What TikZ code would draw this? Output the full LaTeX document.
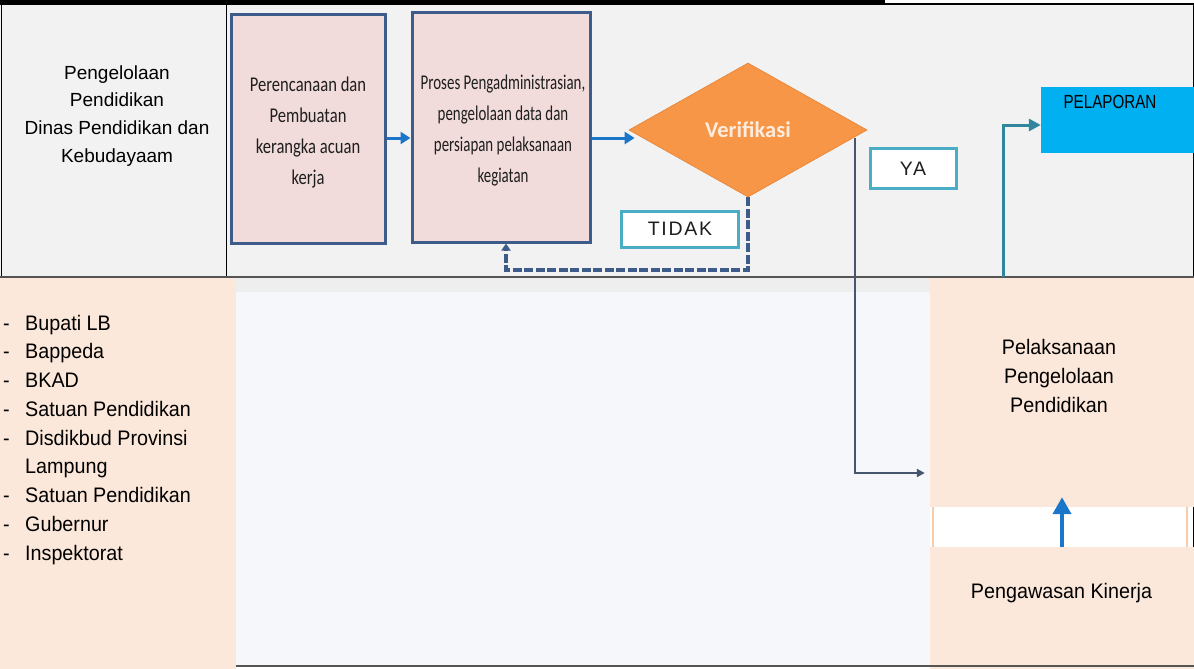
\documentclass[tikz,border=0pt]{standalone}
\usepackage{fontspec}
\setmainfont{Liberation Sans}
\newfontfamily\cbA[FakeStretch=0.79]{Carlito}
\newfontfamily\cbB[FakeStretch=0.71]{Carlito}
\newfontfamily\cbV{Carlito}
\newfontfamily\lblsans[LetterSpace=9]{Liberation Sans}
\newfontfamily\narrowsans[FakeStretch=0.8]{Liberation Sans}
\newfontfamily\listsans[FakeStretch=0.94]{Liberation Sans}
\usetikzlibrary{shapes.geometric,arrows.meta}
\definecolor{bandgray}{HTML}{F2F2F2}
\definecolor{boxfill}{HTML}{F2DCDB}
\definecolor{boxedge}{HTML}{3E5C8A}
\definecolor{arrblue}{HTML}{1B75C9}
\definecolor{dorange}{HTML}{F79646}
\definecolor{dedge}{HTML}{E9883C}
\definecolor{lblteal}{HTML}{4BACC6}
\definecolor{yaline}{HTML}{46566E}
\definecolor{tealarr}{HTML}{31859C}
\definecolor{peach}{HTML}{FCE8DA}
\definecolor{peachline}{HTML}{F8CBAD}
\definecolor{lapcyan}{HTML}{00B0F0}
\definecolor{veritext}{HTML}{FDEBDD}
\definecolor{midfill}{HTML}{F5F7FA}
\definecolor{stripgray}{HTML}{EEEEEE}
\definecolor{rulegray}{HTML}{555555}
\definecolor{boxtext}{HTML}{1E1E1E}
\begin{document}
\begin{tikzpicture}[x=1pt,y=-1pt,
  procbox/.style={draw=boxedge, line width=3pt, fill=boxfill, inner sep=0pt},
  plainbox/.style={draw=none, inner sep=0pt},
  txt/.style={inner sep=0pt, align=center, text=black},
  lblbox/.style={draw=lblteal, line width=3pt, fill=white, inner sep=0pt,
     font=\lblsans\fontsize{19.5}{22}\selectfont, text=boxtext},
  bluearr/.style={draw=arrblue, line width=3pt, -{Triangle[length=10pt,width=12pt]}},
  dashline/.style={draw=boxedge, line width=4pt, dash pattern=on 9pt off 2.5pt,
     -{Triangle[length=7pt,width=9pt]}},
  yaarr/.style={draw=yaline, line width=2.5pt, -{Triangle[length=8pt,width=8pt]}},
  tealline/.style={draw=tealarr, line width=3pt, -{Triangle[length=12pt,width=12pt]}},
  bigblue/.style={draw=arrblue, line width=4pt, -{Triangle[length=17pt,width=18pt]}}
]
\useasboundingbox (0,0) rectangle (1194,669);
% backgrounds
\fill[white] (0,0) rectangle (1194,669);
\fill[bandgray] (0,4) rectangle (1194,277);
\fill[midfill] (236,278) rectangle (930,666);
\fill[stripgray] (236,278) rectangle (930,292);
\fill[peach] (0,278) rectangle (236,669);
% frame lines
\draw[line width=5pt] (0,2.5) -- (885,2.5);
\draw[line width=1.8pt] (885,4) -- (1194,4);
\draw[line width=1pt] (1,4) -- (1,277);
\draw[line width=1pt] (226,4) -- (226,277);
\draw[line width=1pt] (1193,4) -- (1193,277);
\draw[line width=1.2pt, draw=rulegray] (0,277) -- (1194,277);

% left header text
\node[txt, font=\fontsize{19}{27.7}\selectfont] (head) at (117,115.7)
  {Pengelolaan\\Pendidikan\\Dinas Pendidikan dan\\Kebudayaam};

% process boxes
\node[procbox, minimum width=154, minimum height=228] (b1) at (308,129) {};
\node[txt, text=boxtext, font=\cbA\fontsize{21}{31}\selectfont] (t1) at (308,133)
  {Perencanaan dan\\Pembuatan\\kerangka acuan\\kerja};
\node[procbox, minimum width=178, minimum height=229] (b2) at (501,127.5) {};
\node[txt, text=boxtext, font=\cbB\fontsize{21}{31}\selectfont] (t2) at (503,131)
  {Proses Pengadministrasian,\\pengelolaan data dan\\persiapan pelaksanaan\\kegiatan};

% decision
\node[diamond, fill=dorange, draw=dedge, line width=0.8pt, minimum width=238,
  minimum height=134, inner sep=0pt, aspect=1.78,
  font=\cbV\bfseries\fontsize{22.5}{25}\selectfont, text=veritext] (d) at (748,130) {Verifikasi};

% labels
\node[lblbox, minimum width=117, minimum height=36] (tidak) at (680,229) {TIDAK};
\node[lblbox, minimum width=86, minimum height=40] (ya) at (913,168.5) {YA};

% right boxes
\node[plainbox, fill=lapcyan, minimum width=153, minimum height=66] (lap) at (1117.5,120) {};
\node[txt, font=\narrowsans\fontsize{19}{22}\selectfont] (laptxt) at (1110,102) {PELAPORAN};

\node[plainbox, fill=peach, minimum width=264, minimum height=229] (pelbox) at (1062,392.5) {};
\node[txt, font=\listsans\fontsize{21}{29}\selectfont] (peltxt) at (1059,376.4)
  {Pelaksanaan\\Pengelolaan\\Pendidikan};
\draw[peachline, line width=1.5pt] (933,507) -- (933,547);
\draw[peachline, line width=1.5pt] (1187,507) -- (1187,547);
\draw[line width=1pt] (1193,507) -- (1193,547);
\node[plainbox, fill=peach, minimum width=264, minimum height=122] (pengbox) at (1062,608) {};
\node[txt, font=\listsans\fontsize{21}{24}\selectfont] (pengtxt) at (1061.5,593.5) {Pengawasan Kinerja};

% left list
\node[inner sep=0pt, anchor=west, align=left, font=\listsans\fontsize{21}{28.75}\selectfont] (list) at (3,439.7)
 {\makebox[22pt][l]{-}Bupati LB\\
  \makebox[22pt][l]{-}Bappeda\\
  \makebox[22pt][l]{-}BKAD\\
  \makebox[22pt][l]{-}Satuan Pendidikan\\
  \makebox[22pt][l]{-}Disdikbud Provinsi\\
  \makebox[22pt][l]{}Lampung\\
  \makebox[22pt][l]{-}Satuan Pendidikan\\
  \makebox[22pt][l]{-}Gubernur\\
  \makebox[22pt][l]{-}Inspektorat};

% bottom rule
\draw[line width=1.2pt, draw=rulegray] (236,666) -- (1194,666);

% connectors
\coordinate (h1) at (0,138);
\draw[bluearr] (b1.east |- h1) -- (b2.west |- h1);
\draw[bluearr, shorten >=-6pt] (b2.east |- h1) -- (d.west |- h1);

\coordinate (ret) at (506,270);
\draw[dashline] (d.south) -- (d.south |- ret) -- (ret) -- (b2.south -| ret);

\coordinate (ya0) at (855,138);
\coordinate (yalev) at (0,473);
\draw[yaarr, shorten >=5pt] (ya0) |- (pelbox.west |- yalev);

\coordinate (tp0) at (1003,277);
\coordinate (h125) at (0,125);
\draw[tealline] (tp0) |- (lap.west |- h125);

\draw[bigblue, shorten >=-10pt] (pengbox.north) -- (pelbox.south);
\end{tikzpicture}
\end{document}
